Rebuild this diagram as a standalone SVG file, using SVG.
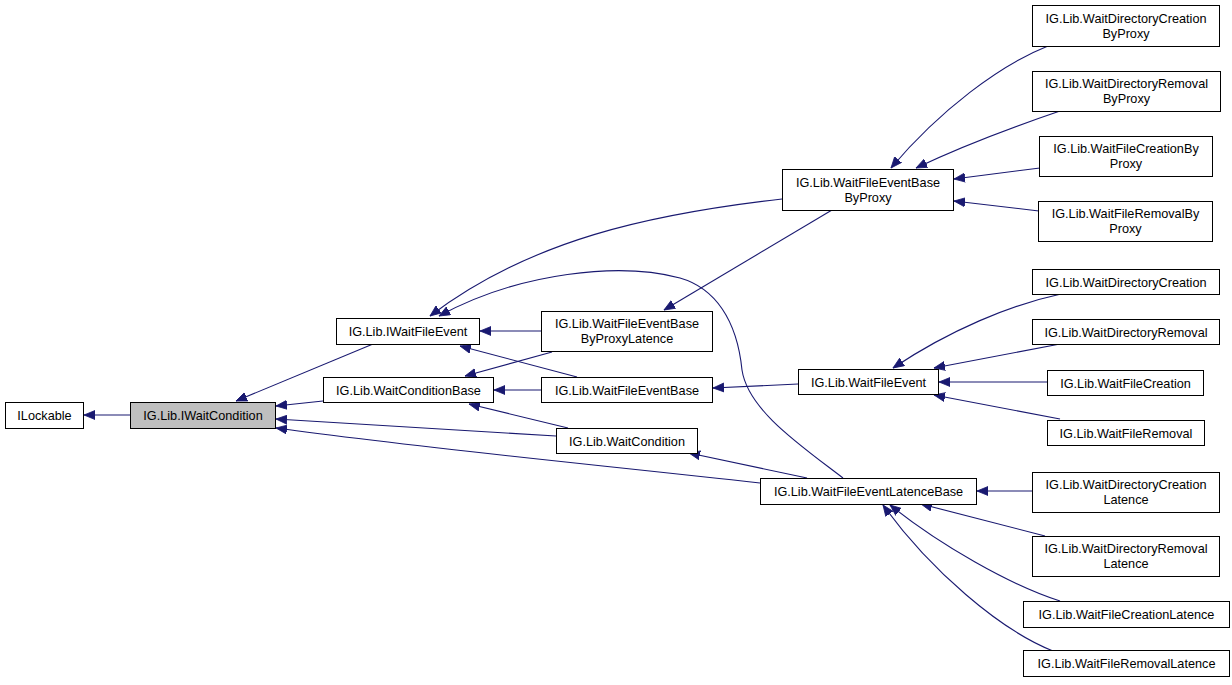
<svg xmlns="http://www.w3.org/2000/svg" width="1232" height="685" viewBox="0 0 1232 685">
<style>
.n rect{fill:#fff;stroke:#000;stroke-width:1}
.n text{font-family:"Liberation Sans",Arial,sans-serif;font-size:12.7px;text-anchor:middle;fill:#000}
#edges path{fill:none;stroke:#191970;stroke-width:1.1;marker-end:url(#ah)}
</style>
<defs>
<marker id="ah" markerUnits="userSpaceOnUse" markerWidth="12" markerHeight="10" refX="11" refY="5" orient="auto">
<path d="M0,0.5 L11,5 L0,9.5 z" fill="#191970" stroke="#191970" stroke-width="0.8"/>
</marker>
</defs>
<rect width="1232" height="685" fill="#fff"/>
<g id="edges">
<path d="M130,415 L84,415"/>
<path d="M373,344 L236,401"/>
<path d="M323,401 L276,406"/>
<path d="M556,436 L276,419"/>
<path d="M760,483 C600,465 420,448 276,428"/>
<path d="M541,331 L480,331"/>
<path d="M577,377 L460,346"/>
<path d="M782,199 C650,214 530,240 430,316"/>
<path d="M843,478 C800,445 748,410 742,370 C737,320 715,288 680,278 C620,262 520,272 439,316"/>
<path d="M832,210 L664,310"/>
<path d="M552,352 L465,376"/>
<path d="M541,390 L494,390"/>
<path d="M568,428 L469,404"/>
<path d="M798,384 L713,388"/>
<path d="M807,478 L689,453"/>
<path d="M1048,46 C1000,65 940,110 891,168"/>
<path d="M1060,111 C1010,128 960,147 916,168"/>
<path d="M1040,168 L954,179"/>
<path d="M1039,211 L954,201"/>
<path d="M1061,294 C1010,305 950,330 893,368"/>
<path d="M1060,344 L934,368"/>
<path d="M1047,382 L939,382"/>
<path d="M1060,419 L934,395"/>
<path d="M1032,491 L977,491"/>
<path d="M1045,536 L921,504"/>
<path d="M1060,601 C1010,585 940,545 890,505"/>
<path d="M1053,651 C1000,630 930,570 883,505"/>
</g>
<g id="n1" class="n"><rect x="5.5" y="402.5" width="78" height="26"/><text x="44.5" y="420">ILockable</text></g>
<g id="n2" class="n"><rect x="130.5" y="402.5" width="145" height="26" style="fill:#bfbfbf"/><text x="203" y="420">IG.Lib.IWaitCondition</text></g>
<g id="n3" class="n"><rect x="336.5" y="318.5" width="143" height="26"/><text x="408" y="336">IG.Lib.IWaitFileEvent</text></g>
<g id="n4" class="n"><rect x="323.5" y="377.5" width="170" height="25"/><text x="408.5" y="394.5">IG.Lib.WaitConditionBase</text></g>
<g id="n5" class="n"><rect x="541.5" y="311.5" width="171" height="40"/><text x="627" y="328">IG.Lib.WaitFileEventBase</text><text x="627" y="343">ByProxyLatence</text></g>
<g id="n6" class="n"><rect x="541.5" y="377.5" width="171" height="25"/><text x="627" y="394.5">IG.Lib.WaitFileEventBase</text></g>
<g id="n7" class="n"><rect x="556.5" y="428.5" width="141" height="25"/><text x="627" y="445.5">IG.Lib.WaitCondition</text></g>
<g id="n8" class="n"><rect x="782.5" y="169.5" width="171" height="41"/><text x="868" y="186.5">IG.Lib.WaitFileEventBase</text><text x="868" y="201.5">ByProxy</text></g>
<g id="n9" class="n"><rect x="798.5" y="369.5" width="140" height="25"/><text x="868.5" y="386.5">IG.Lib.WaitFileEvent</text></g>
<g id="n10" class="n"><rect x="760.5" y="478.5" width="216" height="26"/><text x="868.5" y="496">IG.Lib.WaitFileEventLatenceBase</text></g>
<g id="n11" class="n"><rect x="1032.5" y="5.5" width="187" height="41"/><text x="1126" y="22.5">IG.Lib.WaitDirectoryCreation</text><text x="1126" y="37.5">ByProxy</text></g>
<g id="n12" class="n"><rect x="1032.5" y="71.5" width="188" height="40"/><text x="1126.5" y="88">IG.Lib.WaitDirectoryRemoval</text><text x="1126.5" y="103">ByProxy</text></g>
<g id="n13" class="n"><rect x="1039.5" y="136.5" width="173" height="40"/><text x="1126" y="153">IG.Lib.WaitFileCreationBy</text><text x="1126" y="168">Proxy</text></g>
<g id="n14" class="n"><rect x="1038.5" y="201.5" width="174" height="40"/><text x="1125.5" y="218">IG.Lib.WaitFileRemovalBy</text><text x="1125.5" y="233">Proxy</text></g>
<g id="n15" class="n"><rect x="1032.5" y="269.5" width="187" height="25"/><text x="1126" y="286.5">IG.Lib.WaitDirectoryCreation</text></g>
<g id="n16" class="n"><rect x="1032.5" y="319.5" width="187" height="25"/><text x="1126" y="336.5">IG.Lib.WaitDirectoryRemoval</text></g>
<g id="n17" class="n"><rect x="1047.5" y="370.5" width="156" height="25"/><text x="1125.5" y="387.5">IG.Lib.WaitFileCreation</text></g>
<g id="n18" class="n"><rect x="1047.5" y="420.5" width="157" height="25"/><text x="1126" y="437.5">IG.Lib.WaitFileRemoval</text></g>
<g id="n19" class="n"><rect x="1032.5" y="472.5" width="187" height="40"/><text x="1126" y="489">IG.Lib.WaitDirectoryCreation</text><text x="1126" y="504">Latence</text></g>
<g id="n20" class="n"><rect x="1032.5" y="536.5" width="187" height="40"/><text x="1126" y="553">IG.Lib.WaitDirectoryRemoval</text><text x="1126" y="568">Latence</text></g>
<g id="n21" class="n"><rect x="1023.5" y="601.5" width="206" height="26"/><text x="1126.5" y="619">IG.Lib.WaitFileCreationLatence</text></g>
<g id="n22" class="n"><rect x="1023.5" y="650.5" width="206" height="26"/><text x="1126.5" y="668">IG.Lib.WaitFileRemovalLatence</text></g>
</svg>
